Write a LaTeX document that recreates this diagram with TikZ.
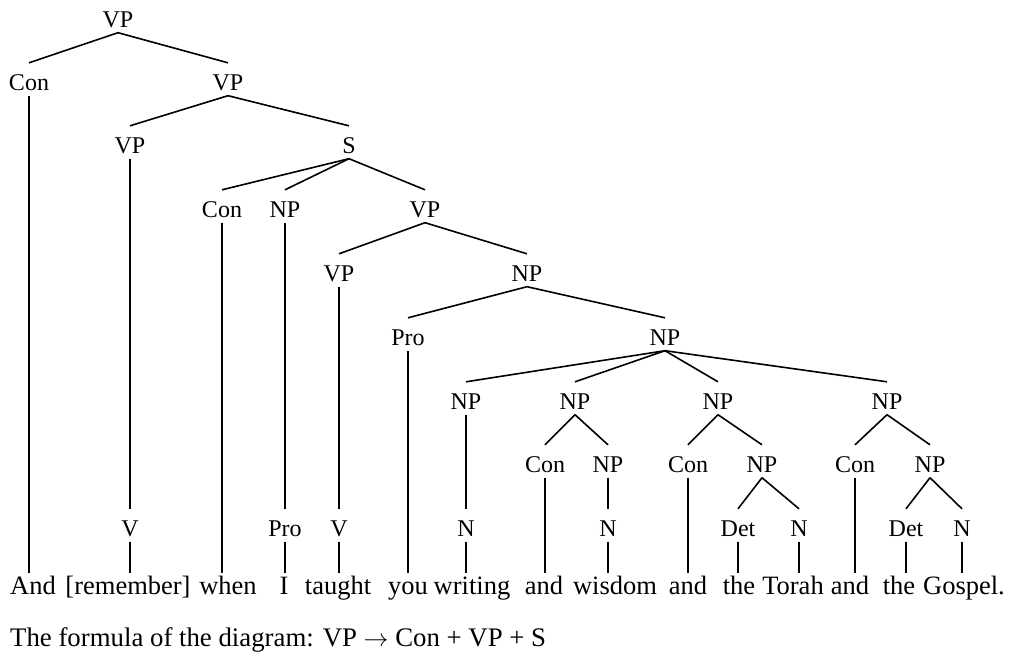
\documentclass[tikz,border=0pt]{standalone}
\usepackage{fontspec}
\setmainfont{Liberation Serif}

\begin{document}
\begin{tikzpicture}[x=1pt, y=-1pt,
  cat/.style={font=\fontsize{24}{27}\selectfont, inner sep=0pt, anchor=base,
              text height=27pt, text depth=5.5pt},
  word/.style={font=\fontsize{26.5}{29}\selectfont, inner sep=0pt, anchor=base,
               text height=21pt, text depth=0pt},
  branch/.style={line width=1.6pt}]
  \useasboundingbox (0,0) rectangle (1011,656);

  % categories, one row per level
  \node[cat] (vp0) at (118,27) {VP};
  \node[cat] (con1) at (29,90) {Con};
  \node[cat] (vp1) at (228,90) {VP};
  \node[cat] (vp2) at (130,153) {VP};
  \node[cat] (s2) at (349,153) {S};
  \node[cat] (con3) at (222,217) {Con};
  \node[cat] (np3) at (285,217) {NP};
  \node[cat] (vp3) at (425,217) {VP};
  \node[cat] (vp4) at (339,281) {VP};
  \node[cat] (np4) at (527,281) {NP};
  \node[cat] (pro5) at (408,345) {Pro};
  \node[cat] (np5) at (665,345) {NP};
  \node[cat] (np6a) at (466,409) {NP};
  \node[cat] (np6b) at (575,409) {NP};
  \node[cat] (np6c) at (718,409) {NP};
  \node[cat] (np6d) at (887,409) {NP};
  \node[cat] (con7b) at (545,472) {Con};
  \node[cat] (np7b) at (608,472) {NP};
  \node[cat] (con7c) at (688,472) {Con};
  \node[cat] (np7c) at (762,472) {NP};
  \node[cat] (con7d) at (855,472) {Con};
  \node[cat] (np7d) at (930,472) {NP};
  \node[cat] (v8a) at (130,536) {V};
  \node[cat] (pro8) at (285,536) {Pro};
  \node[cat] (v8b) at (339,536) {V};
  \node[cat] (n8a) at (466,536) {N};
  \node[cat] (n8b) at (608,536) {N};
  \node[cat] (det8c) at (738,536) {Det};
  \node[cat] (n8c) at (799,536) {N};
  \node[cat] (det8d) at (906,536) {Det};
  \node[cat] (n8d) at (962,536) {N};

  % the sentence
  \node[word] (w1) at (33,594) {And};
  \node[word] (w2) at (128,594) {[remember]};
  \node[word] (w3) at (228,594) {when};
  \node[word] (w4) at (284,594) {I};
  \node[word] (w5) at (338,594) {taught};
  \node[word] (w6) at (408,594) {you};
  \node[word] (w7) at (472,594) {writing};
  \node[word] (w8) at (544,594) {and};
  \node[word] (w9) at (615,594) {wisdom};
  \node[word] (w10) at (688,594) {and};
  \node[word] (w11) at (739,594) {the};
  \node[word] (w12) at (793,594) {Torah};
  \node[word] (w13) at (850,594) {and};
  \node[word] (w14) at (899,594) {the};
  \node[word] (w15) at (964,594) {Gospel.};

  % branching edges
  \foreach \a/\b in {vp0/con1, vp0/vp1, vp1/vp2, vp1/s2,
      s2/con3, s2/np3, s2/vp3, vp3/vp4, vp3/np4, np4/pro5, np4/np5,
      np5/np6a, np5/np6b, np5/np6c, np5/np6d,
      np6b/con7b, np6b/np7b, np6c/con7c, np6c/np7c, np7c/det8c, np7c/n8c,
      np6d/con7d, np6d/np7d, np7d/det8d, np7d/n8d}
    \draw[branch] (\a.south) -- (\b.north);
  % straight drops
  \foreach \a/\b in {con1/w1, vp2/v8a, v8a/w2, con3/w3, np3/pro8, pro8/w4,
      vp4/v8b, v8b/w5, pro5/w6, np6a/n8a, n8a/w7, con7b/w8, np7b/n8b, n8b/w9,
      con7c/w10, det8c/w11, n8c/w12, con7d/w13, det8d/w14, n8d/w15}
    \draw[branch] (\a.south) -- (\a.south |- \b.north);

  \node[font=\fontsize{26.8}{30}\selectfont, inner sep=0pt, anchor=base west] (formula)
    at (10,646) {The formula of the diagram: VP $\rightarrow$ Con + VP + S};
\end{tikzpicture}
\end{document}
